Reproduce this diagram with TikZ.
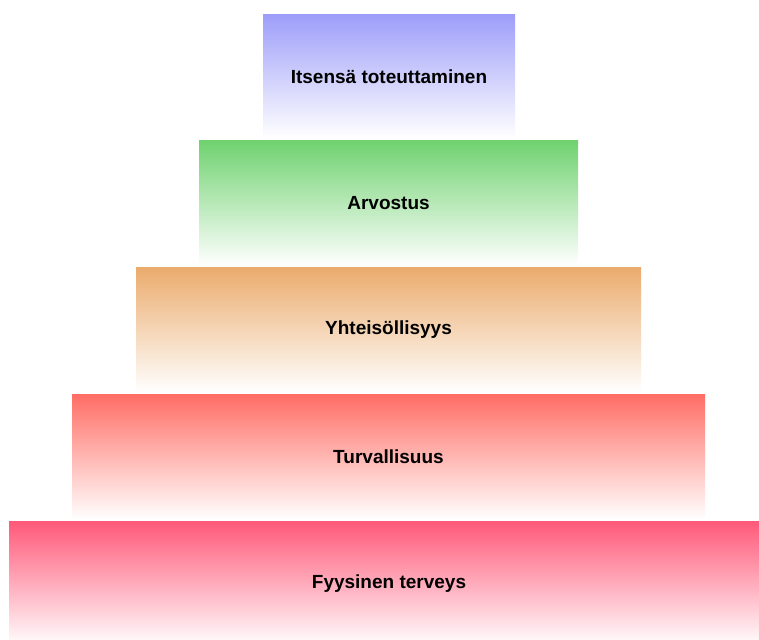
\documentclass[tikz,border=0pt]{standalone}
\usepackage{fontspec}
\setmainfont{Liberation Sans}
\begin{document}
\begin{tikzpicture}[x=1pt,y=1pt]
            \definecolor{itsecolor}{RGB}{158,158,250}
            \definecolor{arvocolor}{RGB}{112,210,112}
            \definecolor{yhteiscolor}{RGB}{235,172,110}
            \definecolor{turvacolor}{RGB}{255,110,102}
            \definecolor{fyyscolor}{RGB}{255,90,122}
            \tikzset{level/.style={rectangle, inner sep=0pt, minimum height=124pt,
                bottom color=white, font=\fontsize{19}{19}\bfseries}}
            % White page of the reference size
            \useasboundingbox (0,0) rectangle (759,639);
            \clip (0,0) rectangle (759,639);
            % Five levels, widest at the bottom
            \node[level, top color=itsecolor, minimum width=252pt, minimum height=123pt] (itse) at (389,562.5) {Itsensä toteuttaminen};
            \node[level, top color=arvocolor, minimum width=379pt] (arvo) at (388.5,436) {Arvostus};
            \node[level, top color=yhteiscolor, minimum width=505pt] (yhteis) at (388.5,309) {Yhteisöllisyys};
            \node[level, top color=turvacolor, minimum width=633pt] (turva) at (388.5,182) {Turvallisuus};
            \node[level, top color=fyyscolor, minimum width=760pt] (fyys) at (389,55) {Fyysinen terveys};
        \end{tikzpicture}
\end{document}
